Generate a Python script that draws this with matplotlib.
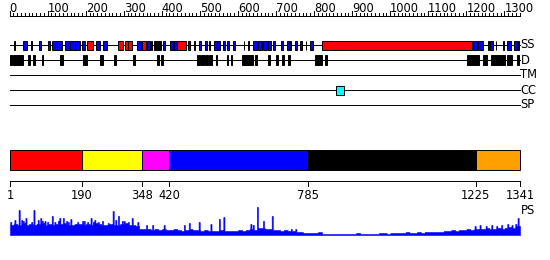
import numpy as np
import matplotlib.pyplot as plt
from matplotlib.patches import Rectangle

plt.rcParams['font.family'] = 'DejaVu Sans'

seq_len = 1341

# secondary structure blocks: (start, end, colour)
ss_blocks = [
    (11, 13, "blue"), (34, 46, "blue"), (55, 59, "blue"), (77, 82, "blue"),
    (100, 107, "blue"), (112, 120, "blue"), (120, 138, "blue"),
    (145, 158, "blue"), (159, 172, "blue"), (172, 185, "blue"),
    (190, 198, "blue"), (204, 220, "red"), (227, 237, "blue"), (246, 257, "blue"),
    (285, 298, "red"), (303, 310, "red"), (310, 322, "red"),
    (335, 344, "blue"), (347, 358, "red"), (362, 370, "blue"), (372, 374, "blue"),
    (380, 397, "black"), (404, 408, "blue"), (421, 428, "blue"), (429, 431, "red"),
    (432, 439, "blue"), (441, 463, "red"), (469, 474, "blue"), (484, 486, "blue"),
    (497, 502, "blue"), (513, 519, "blue"), (525, 527, "blue"), (537, 544, "blue"),
    (546, 553, "blue"), (560, 566, "blue"), (572, 577, "blue"), (586, 593, "blue"),
    (615, 617, "blue"), (626, 630, "blue"), (640, 649, "blue"), (653, 662, "blue"),
    (666, 675, "blue"), (679, 687, "blue"), (691, 697, "blue"), (712, 719, "blue"),
    (728, 735, "blue"), (737, 739, "blue"), (750, 756, "blue"), (763, 769, "blue"),
    (778, 780, "blue"), (789, 796, "blue"), (820, 1216, "red"),
    (1218, 1229, "blue"), (1230, 1244, "blue"), (1257, 1259, "blue"),
    (1262, 1269, "blue"), (1277, 1279, "blue"), (1296, 1298, "blue"),
    (1308, 1317, "blue"), (1326, 1332, "blue"), (1337, 1339, "blue"),
]

# disorder blocks
d_blocks = [
    (1, 5), (8, 36), (49, 54), (62, 67), (84, 88), (132, 141), (192, 196),
    (198, 204), (237, 246), (274, 280), (325, 330), (388, 393), (397, 402),
    (492, 500), (502, 511), (513, 522), (525, 531), (542, 546), (570, 574),
    (581, 584), (611, 628), (630, 640), (645, 651), (680, 684), (700, 706),
    (715, 721), (731, 737), (802, 820), (829, 833), (1201, 1232),
    (1245, 1255), (1265, 1302), (1306, 1319), (1332, 1339),
]

tm_blocks = []
cc_blocks = [(857, 879)]
sp_blocks = []

# domain boundaries and colours
dom_bounds = [1, 190, 348, 420, 785, 1225, 1341]
dom_colors = ["#ff0000", "#ffff00", "#ff00ff", "#0000ff", "#000000", "#ffa000"]

# PS profile: 10-residue bins plus peaks
ps_base = [10, 11, 10, 12, 10, 11, 10, 11, 12, 10, 11, 10, 11, 11, 12, 10, 10,
           11, 11, 10, 11, 10, 12, 11, 10, 10, 11, 10, 10, 11, 12, 10, 10, 9,
           6, 6, 6, 5, 6, 5, 6, 5, 5, 6, 5, 4, 5, 6, 5, 5,
           4, 5, 4, 4, 4, 5, 4, 4, 4, 4, 5, 4, 5, 6, 5, 7, 7, 6, 6, 5,
           5, 4, 5, 4, 4, 3, 3, 2,
           2, 2, 2, 3, 1, 1, 1, 1, 1, 1, 1, 1, 1, 2, 1, 1, 1, 1, 1, 2, 2, 1,
           2, 2, 2, 2, 3, 2, 2, 3, 2, 3, 3, 3, 3, 3, 4,
           4, 5, 4, 5, 5, 6, 5, 6, 6, 6, 7, 6, 6, 7, 6, 7, 8, 7, 9]
ps_peak_pos = [3, 14, 25, 32, 36, 43, 58, 64, 75, 82, 86, 93, 100, 112, 119,
               128, 132, 141, 150, 154, 161, 179, 192, 196, 205, 214, 220,
               224, 233, 244, 259, 272, 279, 286, 296, 301, 312, 322, 337,
               360, 376, 406, 459, 472, 498, 529, 551, 563, 634, 640, 651,
               667, 690, 740, 752, 1223, 1236, 1252, 1267, 1280, 1293, 1309,
               1320, 1330, 1336]
ps_peak_val = [13, 15, 25, 15, 14, 17, 13, 25, 15, 17, 14, 14, 13, 19, 13,
               14, 17, 17, 14, 13, 16, 13, 14, 14, 13, 17, 13,
               15, 13, 14, 12, 24, 15, 19, 14, 14, 13, 17, 13,
               10, 10, 10, 10, 12, 13, 11, 16, 18, 11, 10, 28,
               14, 19, 6, 6, 9, 10, 9, 10, 9, 10, 11,
               10, 11, 17]

row_names = ["SS", "D", "TM", "CC", "SP"]

# layout in pixels
W, H = 550, 260
x_left, x_right = 10, 520
k = (x_right - x_left) / (seq_len - 1)
row_y = [45, 60, 75, 90, 105]

fig = plt.figure(figsize=(W / 100, H / 100), dpi=100)
ax = fig.add_axes([0, 0, 1, 1])
ax.set_xlim(1 - x_left / k, 1 + (W - x_left) / k)
ax.set_ylim(H, 0)
ax.axis("off")

# top ruler
ruler_y = 16
ax.plot([0, seq_len], [ruler_y, ruler_y], color="black", lw=0.7)
for t in range(0, seq_len, 10):
    top = ruler_y - 5 if t % 100 == 0 else ruler_y - 3
    ax.plot([t, t], [top, ruler_y], color="black", lw=0.7)
for t in range(0, seq_len, 100):
    ax.text(t, ruler_y - 4, str(t), ha="left", va="baseline", fontsize=8.3)

# feature rows
tracks = [ss_blocks, [(s, e, "black") for s, e in d_blocks], tm_blocks,
          [(s, e, "#00ffff") for s, e in cc_blocks], sp_blocks]
for y, name, blocks in zip(row_y, row_names, tracks):
    ax.plot([1, seq_len], [y, y], color="black", lw=0.7, zorder=1)
    for s, e, c in blocks:
        h = 10 if name == "D" else 9
        ax.add_patch(Rectangle((s, y - h / 2), e - s, h, facecolor=c,
                               edgecolor="black", lw=0.7, zorder=2))
    ax.text(seq_len + 1, y, name, ha="left", va="center", fontsize=8.3)

# domain bar
bar_top, bar_h = 150, 20
for i, c in enumerate(dom_colors):
    s, e = dom_bounds[i], dom_bounds[i + 1]
    ax.add_patch(Rectangle((s, bar_top), e - s, bar_h, facecolor=c,
                           edgecolor="black", lw=0.7))
axis_y = 181
ax.plot([1, seq_len], [axis_y, axis_y], color="black", lw=0.7)
for b in dom_bounds:
    ax.plot([b, b], [axis_y, axis_y + 5], color="black", lw=0.7)
    ax.text(b, axis_y + 8, str(b), ha="center", va="top", fontsize=8.3)

ax.text(seq_len + 1, 211, "PS", ha="left", va="center", fontsize=8.3)

# PS profile
ps = np.repeat(ps_base, 10).astype(float)
ps = np.append(ps, ps_base[-1])[:seq_len]
for p, v in zip(ps_peak_pos, ps_peak_val):
    lo, hi = max(p - 2, 0), min(p + 1, seq_len)
    ps[lo:hi] = np.maximum(ps[lo:hi], v)
res = np.arange(1, seq_len + 1)
ps_bottom = 235
ax_ps = fig.add_axes([x_left / W, (H - ps_bottom) / H,
                      (x_right - x_left) / W, 30 / H])
ax_ps.set_xlim(1, seq_len)
ax_ps.set_ylim(0, 30)
ax_ps.axis("off")
ax_ps.fill_between(res, 0, ps, step="mid", color="#0000ff", lw=0.4)

fig.savefig("out.png", dpi=100)
